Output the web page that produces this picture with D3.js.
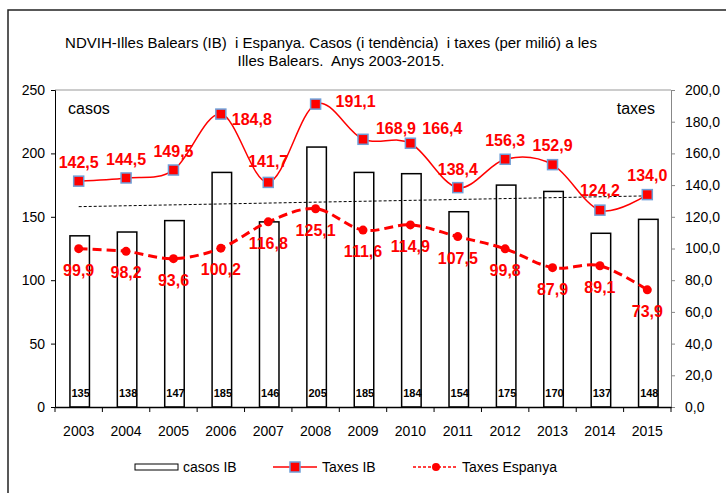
<!DOCTYPE html>
<html lang="ca">
<head>
    <meta charset="UTF-8">
    <style>
        body { margin: 0; background: #fff; }
        svg text { font-family: "Liberation Sans", Arial, sans-serif; }
        .axis text { font-size: 14px; fill: #000; }
        .lbl { font-size: 16px; font-weight: bold; fill: #ff0000; text-anchor: middle; }
        .barlbl { font-size: 11px; font-weight: bold; fill: #000; text-anchor: middle; }
    </style>
    <script src="https://d3js.org/d3.v7.min.js"></script>
    <title>NDVIH Illes Balears</title>
</head>
<body>
    <svg width="726" height="493"></svg>

    <script>
        // data
        var years = ["2003", "2004", "2005", "2006", "2007", "2008", "2009", "2010", "2011", "2012", "2013", "2014", "2015"];
        var casosIB = [135, 138, 147, 185, 146, 205, 185, 184, 154, 175, 170, 137, 148];
        var taxesIB = [142.5, 144.5, 149.5, 184.8, 141.7, 191.1, 168.9, 166.4, 138.4, 156.3, 152.9, 124.2, 134.0];
        var taxesEspanya = [99.9, 98.2, 93.6, 100.2, 116.8, 125.1, 111.6, 114.9, 107.5, 99.8, 87.9, 89.1, 73.9];
        var trendCasos = [158.0, 166.5];   // first and last year of the casos trend line
        var casosTicks = [0, 50, 100, 150, 200, 250];
        var taxesTicks = [0, 20, 40, 60, 80, 100, 120, 140, 160, 180, 200];

        // where each Taxes IB label sits relative to its marker
        var ibLabelOffsets = [[0, -19], [0, -19], [0, -19], [31, 5], [0, -21], [40, -3], [33, -11],
                              [32, -15], [0, -19], [0, -19], [0, -20], [0, -20], [0, -20]];

        (function() {
        var svg = d3.select("svg");
        var mLeft = 55, mRight = 671, mTop = 90, mBottom = 407;
        var fmt = function(v) { return d3.format(".1f")(v).replace(".", ","); };

        // outer frame
        svg.append("rect")
           .attr("x", 8).attr("y", 10)
           .attr("width", 740).attr("height", 500)
           .attr("fill", "none").attr("stroke", "#222").attr("stroke-width", 1.5);

        // title
        var title = svg.append("text")
           .attr("text-anchor", "middle")
           .style("font-size", "15px")
           .style("white-space", "pre");
        title.append("tspan").attr("x", 331).attr("y", 48)
             .text("NDVIH-Illes Balears (IB)  i Espanya. Casos (i tendència)  i taxes (per milió) a les");
        title.append("tspan").attr("x", 341).attr("y", 66)
             .text("Illes Balears.  Anys 2003-2015.");

        var x = d3.scaleBand().domain(years).range([mLeft, mRight]);
        var yL = d3.scaleLinear().domain([0, 250]).range([mBottom, mTop]);
        var yR = d3.scaleLinear().domain([0, 200]).range([mBottom, mTop]);
        var cx = function(i) { return x(years[i]) + x.bandwidth() / 2; };

        // top border of plot area
        svg.append("line")
           .attr("x1", mLeft).attr("x2", mRight).attr("y1", mTop).attr("y2", mTop)
           .attr("stroke", "#999");

        // bars
        var bw = 19.5;
        svg.selectAll(".bar")
           .data(casosIB)
           .enter().append("rect")
           .attr("class", "bar")
           .attr("x", function(d, i) { return cx(i) - bw / 2 + 1; })
           .attr("y", function(d) { return yL(d); })
           .attr("width", bw)
           .attr("height", function(d) { return yL(0) - yL(d); })
           .attr("fill", "#fff").attr("stroke", "#000").attr("stroke-width", 1.5);

        svg.selectAll(".barlbl")
           .data(casosIB)
           .enter().append("text")
           .attr("class", "barlbl")
           .attr("x", function(d, i) { return cx(i) + 2; })
           .attr("y", 397)
           .text(function(d) { return d; });

        // trend line of casos
        svg.append("line")
           .attr("x1", cx(0)).attr("y1", yL(trendCasos[0]))
           .attr("x2", cx(years.length - 1)).attr("y2", yL(trendCasos[1]))
           .attr("stroke", "#000").attr("stroke-width", 1)
           .attr("stroke-dasharray", "3,2");

        // axes
        var axL = svg.append("g").attr("class", "axis")
           .attr("transform", "translate(" + mLeft + ",0)")
           .call(d3.axisLeft(yL).tickValues(casosTicks).tickSize(4).tickPadding(6));
        axL.selectAll("line, path").attr("stroke", "#000");

        var axR = svg.append("g").attr("class", "axis")
           .attr("transform", "translate(" + mRight + ",0)")
           .call(d3.axisRight(yR).tickValues(taxesTicks).tickSize(4).tickPadding(10).tickFormat(fmt));
        axR.selectAll("line, path").attr("stroke", "#888");

        var axB = svg.append("g").attr("class", "axis")
           .attr("transform", "translate(0," + mBottom + ")")
           .call(d3.axisBottom(x).tickSize(0).tickPadding(19));
        axB.select("path").attr("stroke", "#000").attr("stroke-width", 1.5);
        // category boundary ticks
        axB.selectAll(".sep")
           .data(d3.range(years.length + 1))
           .enter().append("line")
           .attr("x1", function(i) { return mLeft + i * x.step(); })
           .attr("x2", function(i) { return mLeft + i * x.step(); })
           .attr("y1", 0).attr("y2", 5)
           .attr("stroke", "#000");

        svg.append("text").attr("x", 68).attr("y", 114).style("font-size", "16px").text("casos");
        svg.append("text").attr("x", 655).attr("y", 114).attr("text-anchor", "end")
           .style("font-size", "16px").text("taxes");

        // smoothed line like the spreadsheet's
        var smooth = d3.line()
           .x(function(d, i) { return cx(i); })
           .y(function(d) { return yR(d); })
           .curve(d3.curveCardinal.tension(0));

        // Taxes Espanya (dashed)
        svg.append("path")
           .datum(taxesEspanya)
           .attr("d", smooth)
           .attr("fill", "none").attr("stroke", "#ff0000")
           .attr("stroke-width", 3).attr("stroke-dasharray", "9,5");
        svg.selectAll(".dotEs")
           .data(taxesEspanya)
           .enter().append("circle")
           .attr("cx", function(d, i) { return cx(i); })
           .attr("cy", function(d) { return yR(d); })
           .attr("r", 4.5)
           .attr("fill", "#ff0000");

        // Taxes IB (solid)
        svg.append("path")
           .datum(taxesIB)
           .attr("d", smooth)
           .attr("fill", "none").attr("stroke", "#ff0000").attr("stroke-width", 1.5);
        svg.selectAll(".sqIB")
           .data(taxesIB)
           .enter().append("rect")
           .attr("x", function(d, i) { return cx(i) - 5; })
           .attr("y", function(d) { return yR(d) - 5; })
           .attr("width", 10).attr("height", 10)
           .attr("fill", "#ff0000").attr("stroke", "#6f9fd8").attr("stroke-width", 1.5);

        // value labels
        svg.selectAll(".lblIB")
           .data(taxesIB)
           .enter().append("text")
           .attr("class", "lbl")
           .attr("x", function(d, i) { return cx(i) + ibLabelOffsets[i][0]; })
           .attr("y", function(d, i) { return yR(d) + ibLabelOffsets[i][1] + 6; })
           .text(fmt);

        svg.selectAll(".lblEs")
           .data(taxesEspanya)
           .enter().append("text")
           .attr("class", "lbl")
           .attr("x", function(d, i) { return cx(i); })
           .attr("y", function(d) { return yR(d) + 27; })
           .text(fmt);

        // legend
        var lg = svg.append("g").style("font-size", "14px");
        lg.append("rect").attr("x", 135).attr("y", 464).attr("width", 43).attr("height", 6)
          .attr("fill", "#fff").attr("stroke", "#000");
        lg.append("text").attr("x", 183).attr("y", 472).text("casos IB");
        lg.append("line").attr("x1", 273).attr("x2", 317).attr("y1", 467).attr("y2", 467)
          .attr("stroke", "#ff0000").attr("stroke-width", 1.5);
        lg.append("rect").attr("x", 290).attr("y", 462).attr("width", 10).attr("height", 10)
          .attr("fill", "#ff0000").attr("stroke", "#6f9fd8").attr("stroke-width", 1.5);
        lg.append("text").attr("x", 322).attr("y", 472).text("Taxes IB");
        lg.append("line").attr("x1", 413).attr("x2", 458).attr("y1", 467).attr("y2", 467)
          .attr("stroke", "#ff0000").attr("stroke-width", 1.5).attr("stroke-dasharray", "3,2");
        lg.append("circle").attr("cx", 436).attr("cy", 467).attr("r", 4).attr("fill", "#ff0000");
        lg.append("text").attr("x", 462).attr("y", 472).text("Taxes Espanya");
        })();
    </script>
</body>
</html>
